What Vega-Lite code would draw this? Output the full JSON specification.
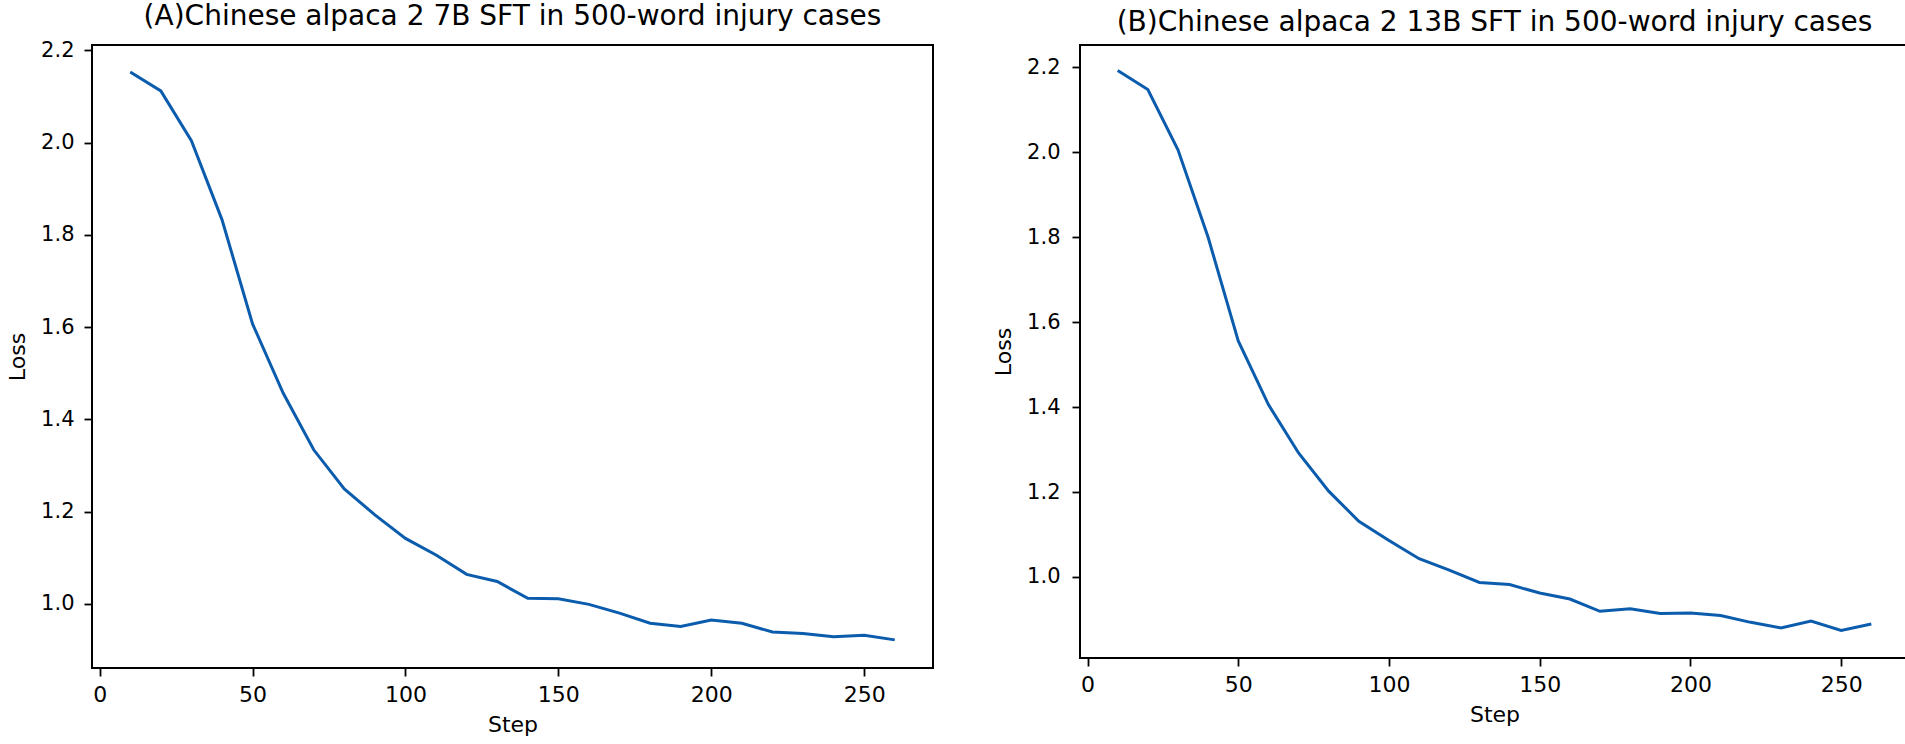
{
  "$schema": "https://vega.github.io/schema/vega-lite/v6.json",
  "background": "white",
  "padding": {"left": 5, "top": 2, "right": 0, "bottom": 0},
  "spacing": 57,
  "datasets": {
    "a": [
      {"step": 10, "loss": 2.153}, {"step": 20, "loss": 2.112}, {"step": 30, "loss": 2.004},
      {"step": 40, "loss": 1.833}, {"step": 50, "loss": 1.607}, {"step": 60, "loss": 1.457},
      {"step": 70, "loss": 1.334}, {"step": 80, "loss": 1.249}, {"step": 90, "loss": 1.193},
      {"step": 100, "loss": 1.142}, {"step": 110, "loss": 1.106}, {"step": 120, "loss": 1.064},
      {"step": 130, "loss": 1.0485}, {"step": 140, "loss": 1.012}, {"step": 150, "loss": 1.011},
      {"step": 160, "loss": 0.999}, {"step": 170, "loss": 0.98}, {"step": 180, "loss": 0.958},
      {"step": 190, "loss": 0.951}, {"step": 200, "loss": 0.965}, {"step": 210, "loss": 0.958},
      {"step": 220, "loss": 0.939}, {"step": 230, "loss": 0.936}, {"step": 240, "loss": 0.929},
      {"step": 250, "loss": 0.932}, {"step": 260, "loss": 0.922}
    ],
    "b": [
      {"step": 10, "loss": 2.193}, {"step": 20, "loss": 2.148}, {"step": 30, "loss": 2.006},
      {"step": 40, "loss": 1.8}, {"step": 50, "loss": 1.556}, {"step": 60, "loss": 1.406},
      {"step": 70, "loss": 1.292}, {"step": 80, "loss": 1.202}, {"step": 90, "loss": 1.131},
      {"step": 100, "loss": 1.086}, {"step": 110, "loss": 1.043}, {"step": 120, "loss": 1.016},
      {"step": 130, "loss": 0.987}, {"step": 140, "loss": 0.982}, {"step": 150, "loss": 0.962},
      {"step": 160, "loss": 0.948}, {"step": 170, "loss": 0.919}, {"step": 180, "loss": 0.925},
      {"step": 190, "loss": 0.914}, {"step": 200, "loss": 0.915}, {"step": 210, "loss": 0.909},
      {"step": 220, "loss": 0.893}, {"step": 230, "loss": 0.88}, {"step": 240, "loss": 0.896},
      {"step": 250, "loss": 0.874}, {"step": 260, "loss": 0.889}
    ]
  },
  "config": {
    "font": "DejaVu Sans",
    "view": {"stroke": "black", "strokeWidth": 2},
    "axis": {
      "grid": false,
      "domain": false,
      "tickColor": "black",
      "tickWidth": 1.8,
      "tickSize": 8,
      "labelFont": "DejaVu Sans",
      "labelColor": "black",
      "titleFont": "DejaVu Sans",
      "titleFontSize": 22,
      "titleFontWeight": "normal",
      "titleColor": "black"
    },
    "axisY": {"labelPadding": 10, "titlePadding": 11, "labelFontSize": 21},
    "axisX": {"labelPadding": 8, "titlePadding": 9, "labelFontSize": 22},
    "title": {"font": "DejaVu Sans", "fontSize": 28, "fontWeight": "normal", "color": "black", "offset": 8}
  },
  "hconcat": [
    {
      "width": 841,
      "height": 623,
      "title": "(A)Chinese alpaca 2 7B SFT in 500-word injury cases",
      "data": {"name": "a"},
      "mark": {"type": "line", "color": "#0b5cad", "strokeWidth": 3},
      "encoding": {
        "x": {"field": "step", "type": "quantitative", "title": "Step",
              "scale": {"domain": [-2.5, 272.5], "nice": false, "zero": false},
              "axis": {"values": [0, 50, 100, 150, 200, 250]}},
        "y": {"field": "loss", "type": "quantitative", "title": "Loss",
              "scale": {"domain": [0.861, 2.2115], "nice": false, "zero": false},
              "axis": {"values": [1.0, 1.2, 1.4, 1.6, 1.8, 2.0, 2.2], "format": ".1f"}}
      }
    },
    {
      "width": 829,
      "height": 613,
      "title": "(B)Chinese alpaca 2 13B SFT in 500-word injury cases",
      "data": {"name": "b"},
      "mark": {"type": "line", "color": "#0b5cad", "strokeWidth": 3},
      "encoding": {
        "x": {"field": "step", "type": "quantitative", "title": "Step",
              "scale": {"domain": [-2.5, 272.5], "nice": false, "zero": false},
              "axis": {"values": [0, 50, 100, 150, 200, 250]}},
        "y": {"field": "loss", "type": "quantitative", "title": "Loss",
              "scale": {"domain": [0.809, 2.253], "nice": false, "zero": false},
              "axis": {"values": [1.0, 1.2, 1.4, 1.6, 1.8, 2.0, 2.2], "format": ".1f", "labelPadding": 12}}
      }
    }
  ]
}
